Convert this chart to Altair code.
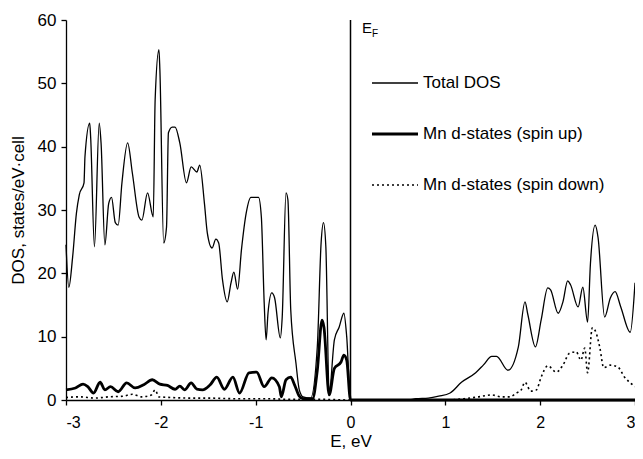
import altair as alt
import pandas as pd

# Total DOS
total_E = [-3.00, -2.97, -2.93, -2.89, -2.86, -2.81, -2.80, -2.75, -2.74, -2.70, -2.65, -2.63, -2.59, -2.55,
           -2.52, -2.48, -2.45, -2.41, -2.35, -2.30, -2.23, -2.20, -2.14, -2.08, -2.06, -2.02, -2.01, -1.97,
           -1.94, -1.92, -1.88, -1.85, -1.80, -1.73, -1.68, -1.62, -1.59, -1.54, -1.51, -1.46, -1.42, -1.39,
           -1.35, -1.30, -1.26, -1.23, -1.19, -1.15, -1.10, -1.05, -0.97, -0.94, -0.91, -0.89, -0.87, -0.83,
           -0.80, -0.74, -0.72, -0.68, -0.66, -0.63, -0.575, -0.54, -0.50, -0.42, -0.35, -0.31, -0.285, -0.26,
           -0.225, -0.17, -0.12, -0.07, -0.04, 0.0,
           0.01, 0.60, 0.69, 0.82, 0.93, 1.05, 1.17, 1.32, 1.40, 1.49, 1.54, 1.66, 1.77, 1.84, 1.87, 1.95,
           2.01, 2.08, 2.11, 2.19, 2.24, 2.29, 2.32, 2.40, 2.45, 2.50, 2.53, 2.58, 2.61, 2.68, 2.74, 2.79,
           2.85, 2.95, 3.00]
total_dos = [24.5, 17.8, 22.6, 29.5, 32.4, 34.3, 38.4, 43.7, 41.5, 24.2, 43.7, 40.5, 24.5, 31.0,
             32.0, 28.0, 27.6, 34.3, 40.6, 35.8, 28.9, 28.4, 32.7, 28.9, 47.4, 55.3, 52.1, 24.8,
             27.3, 42.2, 43.1, 43.1, 40.6, 34.3, 36.8, 36.0, 37.1, 31.0, 26.4, 24.0, 25.4, 24.8,
             19.0, 15.5, 18.5, 20.2, 17.5, 23.7, 29.5, 32.0, 32.0, 28.9, 15.3, 9.5, 13.7, 16.9,
             16.1, 9.8, 13.1, 32.7, 31.6, 14.2, 5.8, 1.6, 0.5, 0.3, 8.4, 24.8, 28.0, 24.2,
             1.1, 9.5, 11.5, 13.7, 10.0, 0.0,
             0.0, 0.0, 0.2, 0.3, 0.6, 1.1, 2.8, 4.3, 5.5, 6.9, 6.9, 4.7, 8.4, 15.5, 13.5, 8.4,
             12.6, 17.7, 17.4, 13.7, 15.5, 18.8, 18.2, 14.7, 17.8, 12.3, 21.5, 27.6, 25.7, 13.1, 16.1, 17.1,
             14.7, 10.7, 18.5]

# Mn d-states, spin up
up_E = [-3.00, -2.90, -2.82, -2.77, -2.71, -2.64, -2.59, -2.53, -2.45, -2.36, -2.27, -2.18, -2.09, -2.01,
        -1.93, -1.85, -1.80, -1.75, -1.68, -1.62, -1.56, -1.48, -1.41, -1.33, -1.24, -1.17, -1.07, -0.99,
        -0.91, -0.83, -0.75, -0.73, -0.68, -0.63, -0.59, -0.54, -0.50, -0.40, -0.35, -0.30, -0.28, -0.225,
        -0.17, -0.10, -0.07, -0.04, 0.0, 3.0]
up_dos = [1.6, 1.9, 2.5, 2.1, 1.1, 2.8, 1.6, 2.1, 1.3, 2.7, 1.9, 2.4, 3.2, 2.5,
          2.3, 1.7, 2.2, 1.6, 2.7, 1.7, 1.6, 2.4, 3.6, 1.7, 3.6, 1.1, 4.3, 4.4,
          2.1, 3.5, 2.1, 0.5, 3.2, 3.6, 2.4, 0.6, 0.2, 0.2, 4.7, 12.6, 11.5, 0.8,
          5.0, 6.0, 7.1, 6.3, 0.0, 0.0]

# Mn d-states, spin down
down_E = [-3.00, -2.85, -2.70, -2.55, -2.40, -2.30, -2.20, -2.10, -2.06, -2.02, -1.90, -1.70, -1.50, -1.20,
          -0.90, -0.60, -0.30, 0.0, 1.00, 1.20, 1.35, 1.49, 1.59, 1.68, 1.75, 1.80, 1.84, 1.90, 1.96,
          2.01, 2.08, 2.17, 2.24, 2.31, 2.38, 2.43, 2.47, 2.50, 2.55, 2.59, 2.63, 2.67, 2.74, 2.82,
          2.89, 2.95, 3.00]
down_dos = [0.4, 0.5, 0.3, 0.5, 0.6, 0.9, 0.5, 0.8, 1.6, 0.5, 0.4, 0.3, 0.3, 0.2,
            0.2, 0.1, 0.1, 0.0, 0.0, 0.2, 0.5, 0.8, 0.5, 0.5, 1.1, 1.6, 2.8, 1.4, 1.6,
            3.6, 5.4, 4.4, 5.5, 7.4, 7.6, 6.3, 8.2, 4.3, 11.4, 10.6, 8.2, 5.1, 5.5, 5.2,
            3.6, 2.7, 2.1]

legend_labels = ["Total DOS", "Mn d-states (spin up)", "Mn d-states (spin down)"]
x_ticks = [-3, -2, -1, 0, 1, 2, 3]
y_ticks = [0, 10, 20, 30, 40, 50, 60]

FONT = "Liberation Sans"
W, H = 569, 380

xs = alt.Scale(domain=[-3, 3], nice=False, zero=False)
ys = alt.Scale(domain=[0, 60], nice=False)

x_axis = alt.Axis(values=x_ticks, title="E, eV", labelExpr="toString(datum.value)", grid=False,
                  tickSize=5, labelPadding=9, titlePadding=3, labelFontSize=16)
y_axis = alt.Axis(values=y_ticks, title="DOS, states/eV\u00b7cell", grid=False, tickSize=5,
                  labelPadding=5, titlePadding=10)

df_t = pd.DataFrame({"E": total_E, "DOS": total_dos})
df_u = pd.DataFrame({"E": up_E, "DOS": up_dos})
df_d = pd.DataFrame({"E": down_E, "DOS": down_dos})

total = alt.Chart(df_t).mark_line(color="black", strokeWidth=1.3, interpolate="monotone").encode(
    x=alt.X("E:Q", scale=xs, axis=x_axis), y=alt.Y("DOS:Q", scale=ys, axis=y_axis))
up = alt.Chart(df_u).mark_line(color="black", strokeWidth=2.8, interpolate="monotone").encode(
    x=alt.X("E:Q", scale=xs), y=alt.Y("DOS:Q", scale=ys))
down = alt.Chart(df_d).mark_line(color="black", strokeWidth=1.6, strokeDash=[2, 3],
                                 interpolate="monotone").encode(
    x=alt.X("E:Q", scale=xs), y=alt.Y("DOS:Q", scale=ys))

ef = alt.Chart(pd.DataFrame({"E": [0]})).mark_rule(color="black", strokeWidth=1.5).encode(
    x=alt.X("E:Q", scale=xs), y=alt.value(0), y2=alt.value(H))

ef_e = alt.Chart(pd.DataFrame({"t": ["E"]})).mark_text(
    font=FONT, fontSize=15, align="left", baseline="alphabetic", color="black").encode(
    x=alt.value(296), y=alt.value(13), text="t:N")
ef_f = alt.Chart(pd.DataFrame({"t": ["F"]})).mark_text(
    font=FONT, fontSize=10, align="left", baseline="alphabetic", color="black").encode(
    x=alt.value(306), y=alt.value(17), text="t:N")

leg_y = [63, 114, 165]
leg = []
styles = [dict(strokeWidth=1.3), dict(strokeWidth=2.8), dict(strokeWidth=1.6, strokeDash=[2, 3])]
for lab, yy, st in zip(legend_labels, leg_y, styles):
    leg.append(alt.Chart(pd.DataFrame({"t": [lab]})).mark_rule(color="black", **st).encode(
        x=alt.value(306), x2=alt.value(352), y=alt.value(yy)))
    leg.append(alt.Chart(pd.DataFrame({"t": [lab]})).mark_text(
        font=FONT, fontSize=17, align="left", baseline="middle", color="black").encode(
        x=alt.value(357), y=alt.value(yy), text="t:N"))

chart = alt.layer(total, up, down, ef, ef_e, ef_f, *leg).properties(
    width=W, height=H,
    autosize=alt.AutoSizeParams(type="none"),
    padding={"left": 58, "top": 12, "right": 0, "bottom": 51},
).configure_view(stroke=None).configure_axis(
    domainColor="black", tickColor="black", labelColor="black", titleColor="black",
    labelFont=FONT, titleFont=FONT, labelFontSize=17, titleFontSize=17,
    titleFontWeight="normal", domainWidth=1.3, tickWidth=1.3
)

chart.save("out.html", embed_options={"renderer": "svg", "actions": False})
